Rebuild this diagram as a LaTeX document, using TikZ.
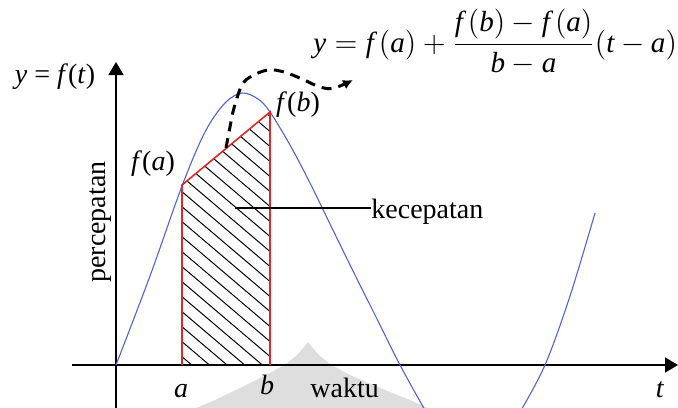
\documentclass[tikz,border=0pt]{standalone}
\usepackage{fontspec}
\setmainfont{Liberation Serif}
\usetikzlibrary{arrows.meta}
\definecolor{curveblue}{RGB}{80,100,210}
\definecolor{boxred}{RGB}{220,40,40}
\definecolor{wmgray}{RGB}{222,222,222}
\begin{document}
\begin{tikzpicture}[x=0.5pt,y=-0.5pt,
  font=\fontsize{14}{16}\selectfont,
  axisline/.style={line width=0.8pt,-{Triangle[length=6.5pt,width=7.5pt]}},
  bluecurve/.style={curveblue,line width=0.55pt},
  redline/.style={boxred,line width=0.8pt},
  hatchline/.style={black,line width=0.5pt},
  dasharrow/.style={black,line width=1.5pt,dash pattern=on 5pt off 3.5pt,-{Latex[length=5pt,width=5pt]}},
  leader/.style={black,line width=0.55pt},
  lbl/.style={inner sep=0pt,anchor=base}]
\useasboundingbox (0,0) rectangle (678,407);
\clip (0,0) rectangle (678,407);

% faint watermark
\fill[wmgray] (308,342) -- (318,354) -- (330,364) -- (350,375) -- (380,388) -- (410,400) -- (430,409)
  -- (194,409) -- (215,400) -- (240,388) -- (266,375) -- (286,364) -- (298,354) -- cycle;

% coordinates
\coordinate (O) at (116,365);
\coordinate (Ybot) at (116,410);
\coordinate (Ytip) at (116,62);
\coordinate (Xbeg) at (72,365);
\coordinate (Xtip) at (678,365);
\coordinate (A0) at (182,365);
\coordinate (A) at (182,185);
\coordinate (B) at (270,112);
\coordinate (B0) at (270,365);

% hatching
\begin{scope}
  \clip (A0) -- (A) -- (B) -- (B0) -- cycle;
  \foreach \k in {-12,...,13}
    \draw[hatchline] (82,{191.7+15*\k-85}) -- (282,{191.7+15*\k+85});
\end{scope}

% axes
\draw[axisline] (Ybot) -- (Ytip);
\draw[axisline] (Xbeg) -- (Xtip);

% blue curve
\draw[bluecurve] plot[smooth,tension=0.55] coordinates {(116,365) (150,276) (182,186) (205,132) (225,103) (242,93) (258,99) (270,112) (290,145) (310,183) (330,224) (355,275) (375,315) (400,365) (426,412)};
\draw[bluecurve] plot[smooth,tension=0.55] coordinates {(520,412) (545,365) (570,296) (595,213)};

% red outline
\draw[redline] (A0) -- (A) -- (B) -- (B0);

% dashed arrow
\draw[dasharrow] plot[smooth,tension=0.6] coordinates {(226,148) (230,127) (234,108) (242,85) (252,76) (268,70) (284,72) (302,79) (320,87) (334,88) (353,80)};

% kecepatan leader
\coordinate (K0) at (235,208);
\node[inner sep=0pt,anchor=base west] (kec) at (371,218) {kecepatan};
\draw[leader] (K0) -- (kec.west |- K0);

% labels
\node[lbl] (yft) at (55,83) {\textit{y} = \textit{f}(\textit{t})};
\node[lbl] (fa) at (153,170) {\textit{f}(\textit{a})};
\node[lbl] (fb) at (298,111) {\textit{f}(\textit{b})};
\node[lbl,rotate=90] (perc) at (105,222) {percepatan};
\node[lbl] (la) at (181,397) {\textit{a}};
\node[lbl] (lb) at (267,394) {\textit{b}};
\node[inner sep=0pt,anchor=base west] (wak) at (310,397) {waktu};
\node[lbl] (lt) at (660,397) {\textit{t}};

% formula
\node[inner sep=0pt,anchor=base west] (eq) at (313,52)
  {\scalebox{1.04}{$\displaystyle \textit{y} = \textit{f}\,(\textit{a}) + \frac{\textit{f}\,(\textit{b}) - \textit{f}\,(\textit{a})}{\textit{b} - \textit{a}}(\textit{t} - \textit{a})$}};
\end{tikzpicture}
\end{document}
